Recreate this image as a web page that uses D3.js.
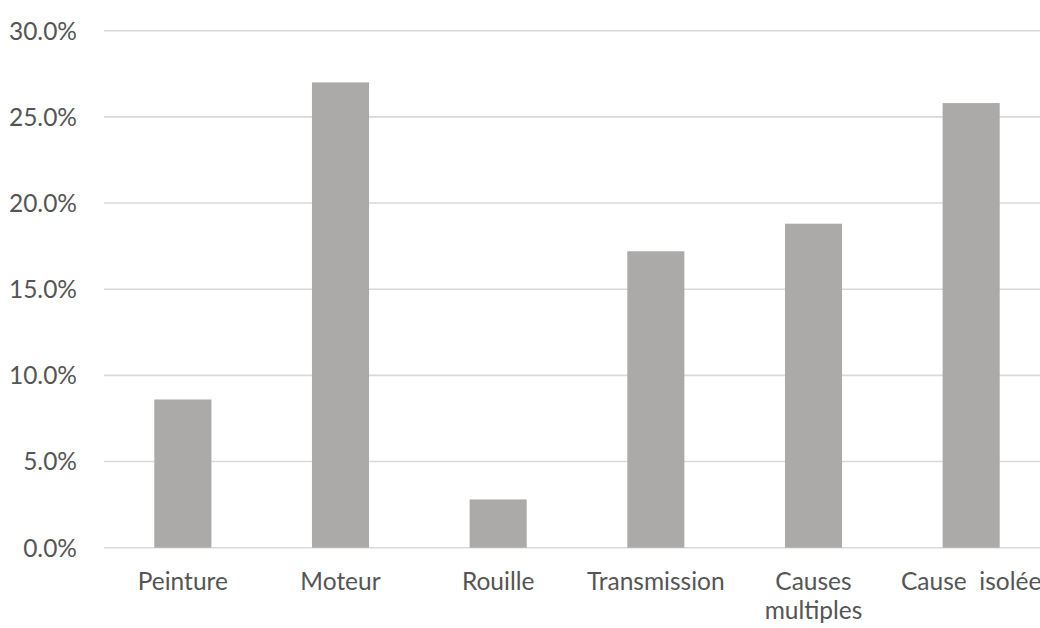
<!DOCTYPE html>
<html>
<head>
<meta charset="utf-8">
<script src="https://cdn.jsdelivr.net/npm/d3@7"></script>
<style>
  html, body { margin: 0; padding: 0; background: #fff; }
  svg { display: block; }
  text { font-family: Lato, "Open Sans", sans-serif; fill: #555555; white-space: pre; }
</style>
</head>
<body>
<svg id="chart" width="1040" height="628"></svg>
<script>
// Share of failures by cause
const categories = ["Peinture", "Moteur", "Rouille", "Transmission", "Causes multiples", "Cause  isolée"];
const categoryLines = [["Peinture"], ["Moteur"], ["Rouille"], ["Transmission"], ["Causes", "multiples"], ["Cause  isolée"]];
const values = [8.6, 27.0, 2.8, 17.2, 18.8, 25.8];
const yTicks = [0, 5, 10, 15, 20, 25, 30];

(function () {
  const svg = d3.select("#chart");
  const W = 1040;
  const plot = { left: 104, right: 1050, top: 30.7, bottom: 547.7 };
  const fontSize = 24.5;

  const x = d3.scaleBand()
    .domain(categories)
    .range([plot.left, plot.right])
    .paddingInner(0.638)
    .paddingOuter(0.319);

  const y = d3.scaleLinear().domain([0, 30]).range([plot.bottom, plot.top]);

  // gridlines
  svg.append("g")
    .selectAll("line")
    .data(yTicks)
    .join("line")
    .attr("x1", plot.left)
    .attr("x2", W)
    .attr("y1", d => y(d))
    .attr("y2", d => y(d))
    .attr("stroke", "#d9d9d9")
    .attr("stroke-width", 1.6);

  // y labels
  svg.append("g")
    .selectAll("text")
    .data(yTicks)
    .join("text")
    .attr("x", 77)
    .attr("y", d => y(d))
    .attr("dy", "0.36em")
    .attr("text-anchor", "end")
    .attr("font-size", fontSize)
    .text(d => d3.format(".1f")(d) + "%");

  // bars
  svg.append("g")
    .selectAll("rect")
    .data(values)
    .join("rect")
    .attr("x", (d, i) => x(categories[i]))
    .attr("width", x.bandwidth())
    .attr("y", d => y(d))
    .attr("height", d => y(0) - y(d))
    .attr("fill", "#abaaa8");

  // x labels
  const xl = svg.append("g")
    .selectAll("text")
    .data(categories)
    .join("text")
    .attr("x", d => x(d) + x.bandwidth() / 2)
    .attr("y", 590)
    .attr("text-anchor", "middle")
    .attr("font-size", fontSize);

  xl.each(function (d, i) {
    d3.select(this).selectAll("tspan")
      .data(categoryLines[i])
      .join("tspan")
      .attr("x", x(d) + x.bandwidth() / 2)
      .attr("dy", (t, j) => j === 0 ? 0 : 29)
      .text(t => t);
  });
})();
</script>
</body>
</html>
